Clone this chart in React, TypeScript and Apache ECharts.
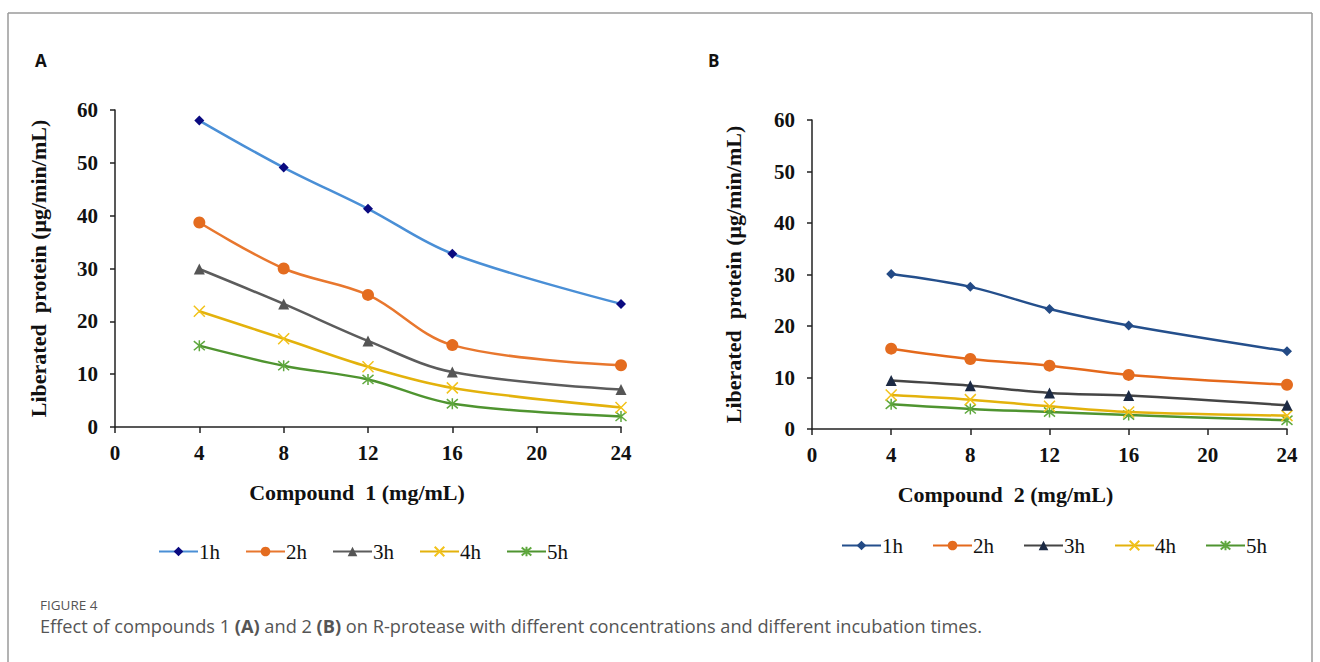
import React, { useEffect, useRef } from 'react';
import * as echarts from 'echarts';

// ---- Data ----
const concentrations = [4, 8, 12, 16, 24];
const timeLabels = ['1h', '2h', '3h', '4h', '5h'];

const compound1_1h = [58.0, 49.1, 41.3, 32.8, 23.3];
const compound1_2h = [38.7, 30.0, 25.0, 15.5, 11.7];
const compound1_3h = [29.9, 23.3, 16.3, 10.4, 7.1];
const compound1_4h = [21.9, 16.7, 11.4, 7.4, 3.7];
const compound1_5h = [15.4, 11.6, 9.0, 4.4, 2.0];

const compound2_1h = [30.1, 27.6, 23.3, 20.1, 15.1];
const compound2_2h = [15.6, 13.6, 12.3, 10.5, 8.6];
const compound2_3h = [9.4, 8.4, 7.0, 6.5, 4.6];
const compound2_4h = [6.6, 5.7, 4.4, 3.3, 2.6];
const compound2_5h = [4.8, 3.9, 3.3, 2.7, 1.7];

const compound1Series = [compound1_1h, compound1_2h, compound1_3h, compound1_4h, compound1_5h];
const compound2Series = [compound2_1h, compound2_2h, compound2_3h, compound2_4h, compound2_5h];

// ---- Styles ----
const xPath = 'path://M0,0L10,10M10,0L0,10';
const starPath = 'path://M0,0L10,10M10,0L0,10M5,-1L5,11';
const symbols = ['diamond', 'circle', 'triangle', xPath, starPath];
const symbolSizes = [10, 12, 11, 11, 11];

const lineColorsA = ['#4a8fd6', '#e8772e', '#5c5c5c', '#e3b20c', '#4f9430'];
const markColorsA = ['#0a0a80', '#e46c1f', '#555555', '#f2c21a', '#5fa83e'];
const lineColorsB = ['#244f8c', '#e4691c', '#454545', '#e3b20c', '#4f9430'];
const markColorsB = ['#234a85', '#e46c1f', '#1c2a44', '#f2c21a', '#5fa83e'];

const serif = '"Liberation Serif", "Times New Roman", serif';
const sans = '"Open Sans", "Noto Sans", sans-serif';

function buildSeries(values: number[][], lineColors: string[], markColors: string[], axisIndex: number, prefix: string) {
  return values.map((vals, i) => {
    const isPath = i >= 3;
    return {
      name: prefix + timeLabels[i],
      type: 'line',
      xAxisIndex: axisIndex,
      yAxisIndex: axisIndex,
      data: concentrations.map((c, k) => [c, vals[k]]),
      smooth: 0.35,
      symbol: symbols[i],
      symbolSize: symbolSizes[i],
      showSymbol: true,
      lineStyle: { color: lineColors[i], width: 2.5 },
      itemStyle: isPath
        ? { color: markColors[i], borderColor: markColors[i], borderWidth: 1.5 }
        : { color: markColors[i], borderWidth: 0 },
      z: 10 - i,
    };
  });
}

const labelFont = { color: '#111', fontFamily: serif, fontWeight: 'bold', fontSize: 21 };
const titleFont = { color: '#111', fontFamily: serif, fontWeight: 'bold', fontSize: 22 };

function axisCommon() {
  return {
    axisLine: { show: true, lineStyle: { color: '#222', width: 1.5 } },
    axisTick: { show: true, length: 6, lineStyle: { color: '#222', width: 1.5 } },
    splitLine: { show: false },
    axisLabel: { ...labelFont },
    nameTextStyle: { ...titleFont },
  };
}

export default function App() {
  const ref = useRef<HTMLDivElement>(null);

  useEffect(() => {
    if (!ref.current) return;
    const chart = echarts.init(ref.current, null, { renderer: 'svg' });

    const legendStyle = {
      orient: 'horizontal',
      itemWidth: 39,
      itemHeight: 12,
      textStyle: { color: '#111', fontFamily: serif, fontSize: 21, padding: [0, 0, 0, -4] },
    };

    const option: any = {
      animation: false,
      backgroundColor: '#ffffff',
      grid: [
        { left: 115, top: 110, width: 506, height: 317 },
        { left: 812, top: 120, width: 475, height: 309 },
      ],
      xAxis: [0, 1].map((g) => ({
        ...axisCommon(),
        type: 'value',
        gridIndex: g,
        min: 0,
        max: 24,
        interval: 4,
        name: g === 0 ? 'Compound  1 (mg/mL)' : 'Compound  2 (mg/mL)',
        nameLocation: 'middle',
        nameGap: 54,
        nameTextStyle: {
          ...titleFont,
          padding: g === 0 ? [0, 22, 0, 0] : [0, 88, 0, 0],
        },
        axisLabel: { ...labelFont, margin: 15 },
      })),
      yAxis: [0, 1].map((g) => ({
        ...axisCommon(),
        type: 'value',
        gridIndex: g,
        min: 0,
        max: 60,
        interval: 10,
        name: 'Liberated  protein (μg/min/mL)',
        nameLocation: 'middle',
        nameGap: g === 0 ? 66 : 68,
        axisTick: { show: true, length: 5, lineStyle: { color: '#222', width: 1.5 } },
        axisLabel: { ...labelFont, margin: 17 },
      })),
      legend: [
        {
          ...legendStyle,
          left: 153,
          top: 536,
          itemGap: 25,
          data: timeLabels.map((t) => 'A' + t),
          formatter: (n: string) => n.slice(1),
        },
        {
          ...legendStyle,
          left: 836,
          top: 530,
          itemGap: 29,
          data: timeLabels.map((t) => 'B' + t),
          formatter: (n: string) => n.slice(1),
        },
      ],
      series: [
        ...buildSeries(compound1Series, lineColorsA, markColorsA, 0, 'A'),
        ...buildSeries(compound2Series, lineColorsB, markColorsB, 1, 'B'),
      ],
      graphic: [
        { type: 'line', shape: { x1: 8, y1: 13, x2: 1312, y2: 13 }, style: { stroke: '#9a9a9a', lineWidth: 1.5 } },
        { type: 'line', shape: { x1: 8, y1: 13, x2: 8, y2: 662 }, style: { stroke: '#9a9a9a', lineWidth: 1.5 } },
        { type: 'line', shape: { x1: 1312, y1: 13, x2: 1312, y2: 662 }, style: { stroke: '#9a9a9a', lineWidth: 1.5 } },
        {
          type: 'text', left: 35, top: 52,
          style: { text: 'A', fontFamily: sans, fontWeight: 'bold', fontSize: 17, fill: '#111' },
        },
        {
          type: 'text', left: 708, top: 52,
          style: { text: 'B', fontFamily: sans, fontWeight: 'bold', fontSize: 17, fill: '#111' },
        },
        {
          type: 'text', left: 40, top: 598,
          style: { text: 'FIGURE 4', fontFamily: sans, fontSize: 13.5, fill: '#555' },
        },
        {
          type: 'text', left: 40, top: 617,
          style: {
            text: 'Effect of compounds 1 {b|(A)} and 2 {b|(B)} on R-protease with different concentrations and different incubation times.',
            fontFamily: sans,
            fontSize: 18.2,
            fill: '#555',
            rich: { b: { fontFamily: sans, fontWeight: 'bold', fontSize: 18.2, fill: '#555' } },
          },
        },
      ],
    };

    chart.setOption(option);
    return () => chart.dispose();
  }, []);

  return (
    <div
      ref={ref}
      style={{ position: 'absolute', left: 0, top: 0, width: 1320, height: 662, background: '#fff' }}
    />
  );
}
